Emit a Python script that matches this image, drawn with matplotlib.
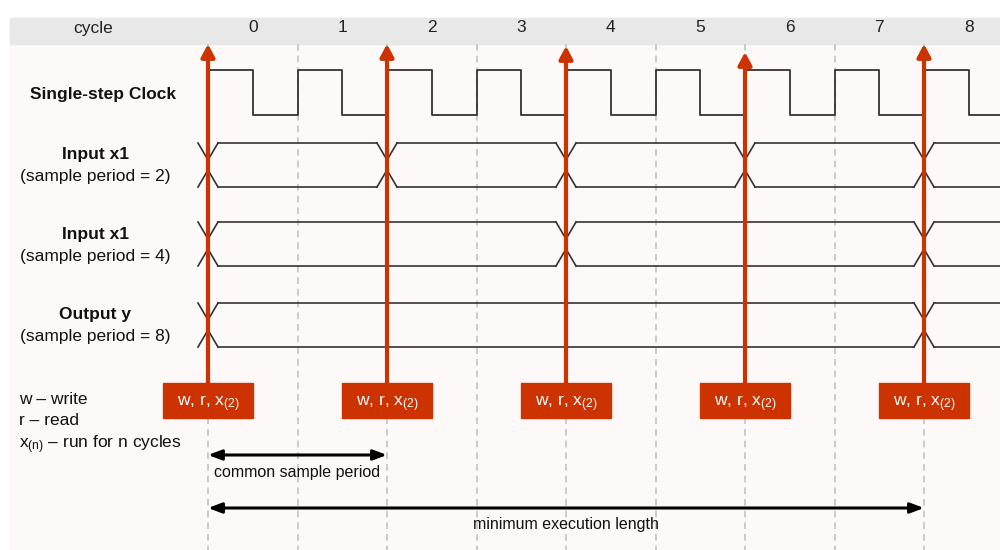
import numpy as np
import matplotlib.pyplot as plt
from matplotlib.patches import Rectangle

plt.rcParams['font.family'] = ['Liberation Sans', 'DejaVu Sans']
plt.rcParams['mathtext.fontset'] = 'custom'
plt.rcParams['mathtext.rm'] = 'Liberation Sans'
plt.rcParams['mathtext.it'] = 'Liberation Sans'

# data
cycles = np.arange(0, 9)
signal_names = ['Input x1', 'Input x1', 'Output y']
sample_periods = [2, 4, 8]
rw_cycles = np.arange(0, 9, 2)          # where write/read/run happens
box_label = 'w, r, x$_{(2)}$'
common_period = (0, 2)
min_exec_length = (0, 8)
legend_lines = ['w \u2013 write', 'r \u2013 read', 'x$_{(n)}$ \u2013 run for n cycles']

# layout (pixels on a 1000x550 canvas, x in cycle units)
X0, DX = 208, 89.5
def cx(px):
    return (px - X0) / DX

red = '#cc3300'
ink = '#333333'
fs = 12.5

fig = plt.figure(figsize=(10, 5.5), dpi=100)
ax = fig.add_axes([0, 0, 1, 1])
ax.set_xlim(cx(0), cx(1000))
ax.set_ylim(550, 0)
ax.axis('off')

# background + header band
ax.add_patch(Rectangle((cx(10), 18), cx(1000) - cx(10), 532, color='#fcf9f8', zorder=0))
ax.add_patch(Rectangle((cx(10), 18), cx(1000) - cx(10), 26, color='#e8e8e8', zorder=1))
ax.text(cx(93), 28, 'cycle', ha='center', va='center', fontsize=fs, color='#222')
for c in cycles:
    ax.text(c + 0.5, 28, str(c), ha='center', va='center', fontsize=fs, color='#222')

# dashed cycle boundaries
for c in cycles:
    ax.plot([c, c], [44, 550], color='#c4c4c4', lw=1.2, ls=(0, (4, 3)), zorder=1)

# clock
xmax = cx(1000)
t = [0]
lv = [70]
for c in cycles:
    for a, b, y in [(c, c + 0.5, 70), (c + 0.5, c + 1, 115)]:
        if a >= xmax:
            break
        t += [a, min(b, xmax)]
        lv += [y, y]
ax.plot(t, lv, color=ink, lw=1.3, zorder=2)
ax.text(cx(103), 95, 'Single-step Clock', ha='center', va='center',
        fontsize=fs, fontweight='bold', color='#111')

# bus signals
tops = [143, 222, 303]
d = 10 / DX
for name, p, top in zip(signal_names, sample_periods, tops):
    bot = top + 44
    mid = (top + bot) / 2
    trans = np.arange(0, xmax, p)
    for i, tr in enumerate(trans):
        ax.plot([tr - d, tr, tr + d], [top, mid - 5, top], color=ink, lw=1.2, zorder=2)
        ax.plot([tr - d, tr, tr + d], [bot, mid + 5, bot], color=ink, lw=1.2, zorder=2)
        end = trans[i + 1] - d if i + 1 < len(trans) else xmax
        ax.plot([tr + d, end], [top, top], color=ink, lw=1.2, zorder=2)
        ax.plot([tr + d, end], [bot, bot], color=ink, lw=1.2, zorder=2)
    ax.text(cx(95), top + 12, name, ha='center', va='center',
            fontsize=fs, fontweight='bold', color='#111')
    ax.text(cx(95), top + 34, '(sample period = %d)' % p, ha='center', va='center',
            fontsize=fs, color='#111')

# red arrows with boxes
tips = {0: 44, 2: 44, 4: 46, 6: 52, 8: 44}
for c in rw_cycles:
    ax.annotate('', xy=(c, tips[c]), xytext=(c, 384),
                arrowprops=dict(arrowstyle='-|>,head_width=0.4,head_length=0.75',
                                color=red, lw=3, shrinkA=0, shrinkB=0), zorder=4)
    ax.add_patch(Rectangle((c - 45 / DX, 383), 90 / DX, 35, color=red, zorder=5))
    ax.text(c, 404, box_label, ha='center', va='center', fontsize=fs,
            color='white', zorder=6)

# legend text
for i, s in enumerate(legend_lines):
    off = 4 if '$' in s else 1
    ax.text(cx(19), 398 + 21.5 * i + off, s, ha='left', va='center', fontsize=fs, color='#111')

# span arrows
for (a, b), y, label in [(common_period, 455, 'common sample period'),
                         (min_exec_length, 508, 'minimum execution length')]:
    ax.annotate('', xy=(a, y), xytext=(b, y),
                arrowprops=dict(arrowstyle='<|-|>,head_width=0.3,head_length=0.8',
                                color='black', lw=2.2, shrinkA=0, shrinkB=0), zorder=3)
    ax.text((a + b) / 2, y + 17, label, ha='center', va='center', fontsize=11.5, color='#111')

fig.savefig('out.png', dpi=100)
